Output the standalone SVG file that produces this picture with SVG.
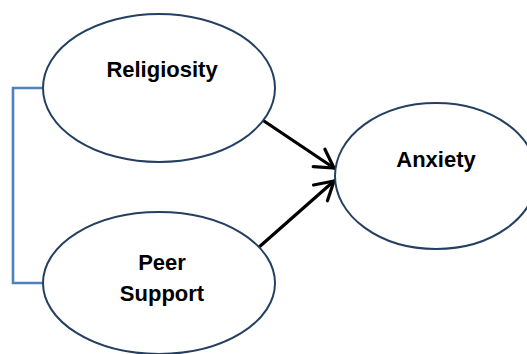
<svg xmlns="http://www.w3.org/2000/svg" width="527" height="354" viewBox="0 0 527 354">
<style>
.node ellipse{fill:#fff;stroke:#243f60;stroke-width:2}
.node text{font-family:"Liberation Sans",Arial,sans-serif;font-weight:bold;font-size:22px;fill:#000;text-anchor:middle}
.arrow{stroke:#000;stroke-width:3.2;fill:none;stroke-linecap:round}
.bracket{stroke:#4f81bd;stroke-width:2.6;fill:none}
</style>
<defs>
<marker id="open" markerUnits="userSpaceOnUse" viewBox="-22 -13 25 26" refX="0" refY="0" markerWidth="25" markerHeight="26" orient="auto">
<path d="M-18,-10.5 L0,0 L-18,10.5" stroke="#000" stroke-width="3.2" fill="none" stroke-linecap="round" stroke-linejoin="miter"/>
</marker>
</defs>
<rect width="527" height="354" fill="#fff"/>
<g id="connectors">
<path class="bracket" d="M43,88 H13 V283 H43"/>
<line class="arrow" x1="258" y1="117" x2="334" y2="168" marker-end="url(#open)"/>
<line class="arrow" x1="258" y1="248" x2="334" y2="181" marker-end="url(#open)"/>
</g>
<g id="religiosity" class="node">
<ellipse cx="159" cy="88" rx="116" ry="74"/>
<text x="162" y="77">Religiosity</text>
</g>
<g id="peer-support" class="node">
<ellipse cx="159" cy="283" rx="116" ry="71"/>
<text x="162" y="270">Peer</text>
<text x="162" y="301">Support</text>
</g>
<g id="anxiety" class="node">
<ellipse cx="436" cy="176" rx="101" ry="73"/>
<text x="436" y="167">Anxiety</text>
</g>
</svg>
